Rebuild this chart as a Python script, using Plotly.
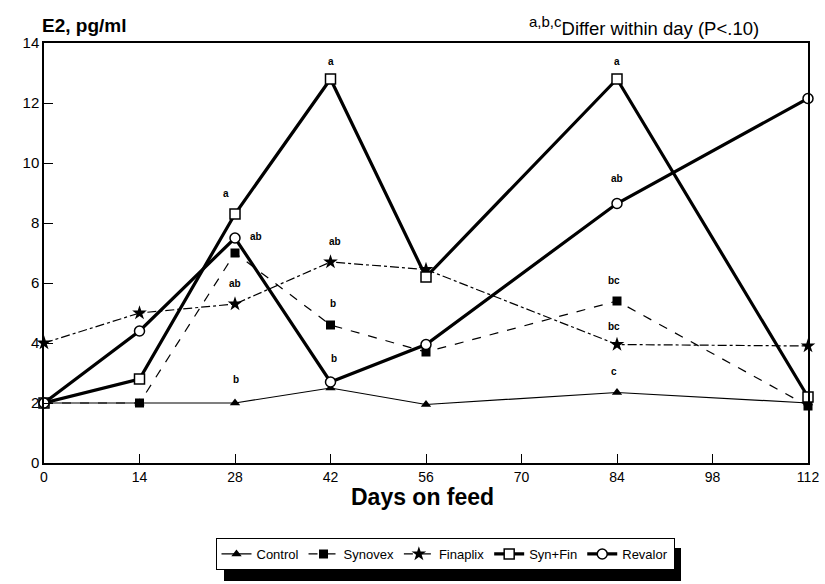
import plotly.graph_objects as go

days = [0, 14, 28, 42, 56, 84, 112]
control = [2.0, 2.0, 2.0, 2.5, 1.95, 2.35, 2.0]
synovex = [2.0, 2.0, 7.0, 4.6, 3.7, 5.4, 1.9]
finaplix = [4.0, 5.0, 5.3, 6.7, 6.45, 3.95, 3.9]
synfin = [2.0, 2.8, 8.3, 12.8, 6.2, 12.8, 2.2]
revalor = [2.0, 4.4, 7.5, 2.7, 3.95, 8.65, 12.15]

x_ticks = [0, 14, 28, 42, 56, 70, 84, 98, 112]
y_ticks = [0, 2, 4, 6, 8, 10, 12, 14]

letter_text = ["a", "ab", "ab", "b", "a", "ab", "b", "b", "a", "ab", "bc", "bc", "c", "a", "b", "b"]
letter_x = [26.7, 31.1, 28.0, 28.2, 42.0, 42.6, 42.3, 42.5, 84.0, 84.0, 83.5, 83.5, 83.6, 113.8, 113.8, 113.8]
letter_y = [9.0, 7.55, 6.0, 2.77, 13.4, 7.38, 5.32, 3.47, 13.4, 9.5, 6.1, 4.54, 3.04, 12.55, 4.1, 2.38]

FONT = "Liberation Sans, Arial, sans-serif"
L, T, W, H = 44, 43, 764, 420


def px(xp):
    return (xp - L) / W


def py(yp):
    return (T + H - yp) / H


fig = go.Figure()

series = [
    ("Control", control, dict(symbol="triangle-up", size=9, color="black"), dict(width=1.2, dash="solid")),
    ("Synovex", synovex, dict(symbol="square", size=9, color="black"), dict(width=1.2, dash="dash")),
    ("Finaplix", finaplix, dict(symbol="star", size=11, color="black"), dict(width=1.2, dash="dashdot")),
    ("Syn+Fin", synfin, dict(symbol="square", size=10, color="white", line=dict(color="black", width=1.5)), dict(width=3.2, dash="solid")),
    ("Revalor", revalor, dict(symbol="circle", size=10, color="white", line=dict(color="black", width=1.5)), dict(width=3.2, dash="solid")),
]

for name, vals, mk, ln in series:
    fig.add_trace(go.Scatter(
        x=days, y=vals, name=name, mode="lines+markers",
        marker=mk, line=dict(color="black", **ln), cliponaxis=False,
    ))

annotations = []
for t, xv, yv in zip(letter_text, letter_x, letter_y):
    annotations.append(dict(x=xv, y=yv, xref="x", yref="y", text="<b>" + t + "</b>",
                            showarrow=False, font=dict(size=10, family=FONT, color="black")))

annotations.append(dict(x=px(40), y=py(26), xref="paper", yref="paper", xanchor="left", yanchor="middle",
                        text="<b>E2, pg/ml</b>", showarrow=False,
                        font=dict(size=19, family=FONT, color="black")))
annotations.append(dict(x=px(527), y=py(26), xref="paper", yref="paper", xanchor="left", yanchor="middle",
                        text="<sup><span style='font-size:15px'>a,b,c</span></sup>Differ within day (P<.10)",
                        showarrow=False,
                        font=dict(size=18.5, family=FONT, color="black")))
annotations.append(dict(x=px(422), y=py(497), xref="paper", yref="paper", xanchor="center", yanchor="middle",
                        text="<b>Days on feed</b>", showarrow=False,
                        font=dict(size=23, family=FONT, color="black")))

shapes = [dict(type="rect", xref="paper", yref="paper", x0=px(224), x1=px(681), y0=py(581), y1=py(548),
               fillcolor="black", line=dict(width=0), layer="below")]

fig.update_layout(
    width=825, height=584,
    margin=dict(l=L, r=825 - L - W, t=T, b=584 - T - H),
    paper_bgcolor="white", plot_bgcolor="white",
    font=dict(family=FONT, color="black", size=14),
    showlegend=True,
    legend=dict(orientation="h", x=px(445), xanchor="center", y=py(538), yanchor="top",
                bgcolor="white", bordercolor="black", borderwidth=1,
                font=dict(size=13, family=FONT), itemwidth=30, tracegroupgap=0,
                itemsizing="trace"),
    annotations=annotations,
    shapes=shapes,
)

fig.update_xaxes(range=[0, 112], tickvals=x_ticks, ticktext=[str(v) for v in x_ticks],
                 ticks="inside", ticklen=9, tickcolor="black", showline=True, linecolor="black",
                 linewidth=1.5, mirror=True, showgrid=False, zeroline=False, automargin=False,
                 tickfont=dict(size=14, family=FONT))
fig.update_yaxes(range=[0, 14], tickvals=y_ticks, ticktext=[str(v) for v in y_ticks],
                 ticks="inside", ticklen=9, tickcolor="black", showline=True, linecolor="black",
                 linewidth=1.5, mirror=True, showgrid=False, zeroline=False, automargin=False,
                 tickfont=dict(size=15, family=FONT))

fig.write_html("out.html", config={"displayModeBar": False},
               post_script="document.body.style.margin='0';")
